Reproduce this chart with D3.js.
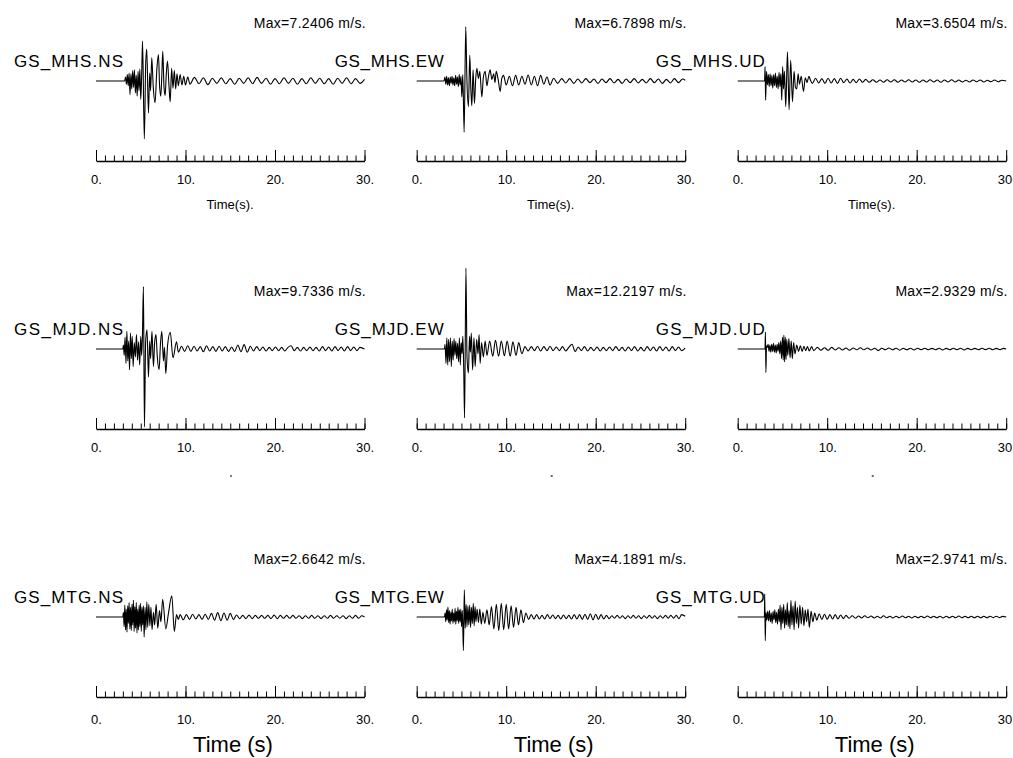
<!DOCTYPE html>
<html>
<head>
<meta charset="utf-8">
<script src="https://cdn.jsdelivr.net/npm/d3@7"></script>
<style>
body { margin: 0; background: #fff; }
svg { display: block; font-family: "Liberation Sans", Arial, Helvetica, sans-serif; }
</style>
</head>
<body>
<svg id="chart"></svg>
<script>
"use strict";

// stations (rows) and components (columns)
var stations = ['GS_MHS', 'GS_MJD', 'GS_MTG'];
var components = ['NS', 'EW', 'UD'];
var maxValues = [
    [7.2406, 6.7898, 3.6504],
    [9.7336, 12.2197, 2.9329],
    [2.6642, 4.1891, 2.9741]
];
var timeTicks = [0, 10, 20, 30];

// traces: [time (s), velocity (m/s)]
var MHS_NS = [[0,0],[3.2,0],[3.3,0.5],[3.4,-0.4],[3.5,0.8],[3.6,-0.6],[3.7,1.0],[3.8,-1.7],[3.9,0.9],[4.0,-1.0],[4.1,1.3],[4.2,-0.8],[4.3,1.4],[4.4,-1.5],[4.5,0.7],[4.6,-1.9],[4.7,1.2],[4.8,-1.2],[4.9,1.5],[5.0,-2.3],[5.1,0.6],
    [5.2,5.0],[5.4,-7.24],[5.55,2.0],[5.67,4.0],[5.86,-4.0],[6.0,1.0],[6.1,-1.2],[6.23,2.9],[6.4,-0.8],[6.6,-2.7],[6.8,1.5],[6.98,3.3],[7.1,-0.5],[7.24,-1.9],[7.35,0.6],[7.46,3.7],[7.6,-0.8],[7.73,-1.8],[7.85,0.8],[7.99,2.5],[8.15,-0.5],[8.29,-2.6],
    [8.45,1.6],[8.6,-0.9],[8.75,1.3],[8.9,-1.0],[9.05,0.9],[9.2,-0.6],[9.4,0.8],[9.6,-0.5],[9.8,0.6],[10.0,-0.5],[10.25,0.5],[10.5,-0.4],[11,0.45],[11.5,-0.35],[12,0.4],[12.5,-0.45],[13,0.35],[13.5,-0.3],[14,0.4],[14.5,-0.35],[15,0.3],[15.5,-0.4],[16,0.35],[16.5,-0.3],[17,0.4],[17.5,-0.35],[18,0.45],[18.5,-0.3],[19,0.35],[19.5,-0.4],[20,0.3],[20.5,-0.35],[21,0.4],[21.5,-0.3],[22,0.35],[22.5,-0.4],[23,0.3],[23.5,-0.35],[24,0.4],[24.5,-0.3],[25,0.35],[25.5,-0.35],[26,0.3],[26.5,-0.4],[27,0.35],[27.5,-0.3],[28,0.4],[28.5,-0.35],[29,0.3],[29.5,-0.3],[30,0.2]];

var MHS_EW = [[0,0],[3.05,0],[3.15,0.5],[3.25,-0.4],[3.35,0.6],[3.45,-0.5],[3.55,0.4],[3.65,-0.6],[3.75,0.5],[3.85,-0.3],[3.95,0.6],[4.05,-0.5],[4.15,0.4],[4.25,-0.6],[4.35,0.7],[4.45,-0.4],[4.55,0.5],[4.65,-0.7],[4.75,0.8],[4.85,-0.5],[4.95,0.6],
    [5.04,-2.0],[5.15,0.8],[5.3,-6.4],[5.48,6.79],[5.6,0.5],[5.78,-3.2],[5.93,3.2],[6.05,-1.0],[6.16,-3.1],[6.3,1.4],[6.45,-2.8],[6.6,0.4],[6.72,1.6],[6.9,0.3],[7.05,1.2],[7.28,-2.0],[7.45,0.5],[7.65,1.2],[7.85,-0.6],[8.0,0.4],[8.2,1.4],[8.4,0.2],[8.6,0.9],[8.75,-0.2],[8.88,1.2],[9.1,0.2],[9.33,-1.3],[9.5,0.3],
    [9.7,0.7],[10.0,-0.5],[10.35,0.6],[10.7,-0.6],[11.05,0.7],[11.4,-0.5],[11.75,0.6],[12.1,-0.4],[12.45,0.75],[12.8,-0.5],[13.15,0.6],[13.5,-0.6],[13.85,0.7],[14.2,-0.4],[14.55,0.5],[14.9,-0.5],[15.3,0.35],[15.75,-0.3],[16.2,0.3],[16.65,-0.25],[17.1,0.3],[17.55,-0.3],[18,0.25],[18.45,-0.25],[18.9,0.3],[19.35,-0.2],[19.8,0.25],[20.25,-0.3],[20.7,0.25],[21.15,-0.2],[21.6,0.3],[22.05,-0.25],[22.5,0.2],[22.95,-0.3],[23.4,0.25],[23.85,-0.2],[24.3,0.3],[24.75,-0.25],[25.2,0.2],[25.65,-0.25],[26.1,0.3],[26.55,-0.2],[27,0.25],[27.45,-0.3],[27.9,0.2],[28.35,-0.25],[28.8,0.3],[29.25,-0.2],[29.7,0.25],[30,0.1]];

var MHS_UD = [[0,0],[3.0,0],[3.06,1.8],[3.12,-2.4],[3.22,1.2],[3.32,-0.5],[3.42,0.8],[3.52,-0.7],[3.62,0.9],[3.72,-0.6],[3.82,0.7],[3.92,-0.9],[4.02,0.8],[4.12,-0.6],[4.22,1.0],[4.32,-0.8],[4.42,0.6],[4.52,-1.0],[4.62,1.1],[4.72,-0.7],[4.82,0.9],[4.92,-2.4],[5.02,1.8],[5.12,-1.0],[5.22,1.2],[5.37,-3.2],[5.56,3.65],[5.74,-3.6],[5.92,2.6],[6.12,-2.6],[6.3,1.2],[6.45,-0.8],[6.6,-1.0],[6.75,0.9],[6.9,-0.4],[7.1,0.6],[7.35,-1.3],[7.55,0.4],[7.75,-0.2],[7.95,0.6],
    [8.1,0.2],[8.35,-0.3],[8.7,0.35],[9.05,-0.25],[9.4,0.3],[9.75,-0.3],[10.1,0.35],[10.45,-0.25],[10.8,0.3],[11.15,-0.3],[11.5,0.35],[11.85,-0.2],[12.2,0.25],[12.55,-0.25],[12.9,0.2],[13.25,-0.2],[13.6,0.25],[13.95,-0.15],[14.3,0.2],[14.7,-0.15],[15.1,0.15],[15.5,-0.15],[15.9,0.12],[16.3,-0.15],[16.7,0.15],[17.1,-0.12],[17.5,0.15],[17.9,-0.15],[18.3,0.12],[18.7,-0.12],[19.1,0.15],[19.5,-0.12],[19.9,0.12],[20.3,-0.15],[20.7,0.12],[21.1,-0.12],[21.5,0.15],[21.9,-0.12],[22.3,0.12],[22.7,-0.15],[23.1,0.12],[23.5,-0.12],[23.9,0.15],[24.3,-0.12],[24.7,0.12],[25.1,-0.12],[25.5,0.1],[25.9,-0.12],[26.3,0.12],[26.7,-0.1],[27.1,0.12],[27.5,-0.12],[27.9,0.1],[28.3,-0.1],[28.7,0.12],[29.1,-0.1],[29.5,0.1],[30,0]];

var MJD_NS = [[0,0],[3.0,0],[3.06,0.5],[3.15,-0.8],[3.25,1.5],[3.35,-1.8],[3.45,2.2],[3.55,-1.5],[3.65,1.0],[3.75,-2.6],[3.85,2.0],[3.95,-1.2],[4.05,1.6],[4.15,-2.2],[4.28,0.8],[4.4,-1.0],[4.52,1.8],[4.64,-1.4],[4.76,0.9],[4.88,-2.0],[5.0,1.6],[5.1,-0.8],[5.18,1.2],[5.3,7.8],[5.41,-9.73],[5.55,1.0],[5.7,2.4],[5.86,-3.5],[6.0,1.0],[6.1,-1.2],[6.25,2.2],[6.42,-2.2],[6.55,0.8],[6.7,1.8],[6.85,-1.0],[7.05,-2.6],[7.2,0.6],[7.35,2.2],[7.54,-1.5],[7.65,0.2],[7.8,-3.1],[8.0,0.5],[8.3,2.1],[8.6,-1.1],[9.0,0.9],[9.2,-0.4],
    [9.55,0.35],[9.9,-0.3],[10.25,0.4],[10.6,-0.3],[10.95,0.35],[11.3,-0.25],[11.65,0.3],[12.0,-0.35],[12.35,0.4],[12.7,-0.25],[13.05,0.3],[13.4,-0.3],[13.75,0.35],[14.1,-0.25],[14.45,0.3],[14.8,-0.3],[15.15,0.25],[15.5,-0.3],[15.85,0.5],[16.2,-0.35],[16.55,0.55],[16.9,-0.4],[17.25,0.35],[17.6,-0.25],[17.95,0.3],[18.3,-0.2],[18.65,0.25],[19.0,-0.25],[19.35,0.2],[19.7,-0.2],[20.05,0.25],[20.4,-0.2],[20.75,0.2],[21.1,-0.25],[21.45,0.2],[21.8,0.4],[22.15,-0.2],[22.5,0.2],[22.85,-0.25],[23.2,0.2],[23.55,-0.2],[23.9,0.25],[24.25,-0.2],[24.6,0.2],[24.95,-0.25],[25.3,0.3],[25.65,-0.2],[26.0,0.25],[26.35,-0.25],[26.7,0.3],[27.05,-0.2],[27.4,0.25],[27.75,-0.25],[28.1,0.3],[28.45,-0.2],[28.8,0.25],[29.15,-0.2],[29.5,0.2],[30,0]];

var MJD_EW = [[0,0],[3.1,0],[3.17,0.6],[3.27,-1.8],[3.37,1.4],[3.47,-2.0],[3.57,1.2],[3.67,-1.6],[3.77,1.4],[3.87,-2.2],[3.97,1.0],[4.07,-1.4],[4.17,1.3],[4.27,-0.8],[4.37,1.0],[4.47,-1.2],[4.57,0.7],[4.67,-1.6],[4.77,1.4],[4.87,-2.0],[4.97,0.8],[5.07,-0.6],[5.15,1.6],[5.25,-2.2],[5.35,-8.6],[5.5,10.1],[5.62,-1.0],[5.78,-3.0],[5.9,1.6],[6.0,-0.4],[6.1,2.0],[6.25,-2.6],[6.4,1.4],[6.53,-2.2],[6.7,1.2],[6.85,-0.6],[6.97,1.8],[7.09,-1.8],[7.25,0.8],[7.45,-1.0],[7.65,1.0],[7.85,-0.8],
    [8.15,1.0],[8.5,-0.9],[8.8,1.1],[9.15,-0.9],[9.45,1.0],[9.8,-0.85],[10.1,1.0],[10.45,-0.9],[10.75,0.9],[11.1,-0.8],[11.4,0.8],[11.75,-0.6],
    [12.1,0.3],[12.45,-0.25],[12.8,0.3],[13.15,-0.2],[13.5,0.35],[13.85,-0.25],[14.2,0.3],[14.55,-0.2],[14.9,0.35],[15.25,-0.2],[15.6,0.25],[15.95,-0.2],[16.3,0.3],[16.65,-0.25],[17.0,0.2],[17.35,0.6],[17.7,-0.3],[18.05,0.25],[18.4,-0.2],[18.75,0.3],[19.1,-0.25],[19.45,0.2],[19.8,-0.2],[20.15,0.25],[20.5,-0.25],[20.85,0.2],[21.2,-0.2],[21.55,0.25],[21.9,-0.2],[22.25,0.3],[22.6,-0.2],[22.95,0.2],[23.3,-0.25],[23.65,0.25],[24.0,-0.2],[24.35,0.3],[24.7,-0.25],[25.05,0.2],[25.4,-0.25],[25.75,0.3],[26.1,-0.2],[26.45,0.25],[26.8,-0.25],[27.15,0.3],[27.5,-0.2],[27.85,0.25],[28.2,-0.25],[28.55,0.3],[28.9,-0.2],[29.25,0.25],[29.6,-0.2],[30,0.1]];

var MJD_UD = [[0,0],[3.05,0],[3.1,2.1],[3.15,-2.93],[3.22,0.4],[3.3,0.2],[3.4,0.6],[3.5,-0.3],[3.6,0.5],[3.7,-0.4],[3.8,0.6],[3.9,-0.3],[4.0,0.7],[4.1,-0.4],[4.2,0.5],[4.3,-0.5],[4.4,0.6],[4.5,-0.3],[4.6,0.8],[4.7,-0.6],[4.8,1.0],[4.9,-1.2],[5.0,1.5],[5.08,-1.4],[5.16,1.75],[5.24,-1.6],[5.32,1.5],[5.4,-1.3],[5.48,1.2],[5.6,-0.8],[5.72,1.3],[5.85,-1.1],[5.98,1.0],[6.1,-1.2],[6.25,0.8],[6.4,-0.6],[6.6,0.5],[6.8,-0.3],[7.0,0.4],[7.2,-0.3],[7.4,0.35],[7.6,-0.2],[7.8,0.3],[8.0,-0.25],[8.25,0.3],[8.5,-0.2],
    [8.9,0.2],[9.3,-0.15],[9.7,0.15],[10.1,-0.15],[10.5,0.2],[10.9,-0.12],[11.3,0.15],[11.7,-0.12],[12.1,0.12],[12.5,-0.15],[12.9,0.12],[13.3,-0.1],[13.7,0.15],[14.1,-0.1],[14.5,0.12],[14.9,-0.12],[15.3,0.1],[15.7,-0.2],[16.1,0.1],[16.5,-0.1],[16.9,0.12],[17.3,-0.1],[17.7,0.1],[18.1,-0.15],[18.5,0.1],[18.9,-0.1],[19.3,0.1],[19.7,-0.12],[20.1,0.1],[20.5,-0.08],[20.9,0.1],[21.3,-0.1],[21.7,0.08],[22.1,-0.1],[22.5,0.1],[22.9,-0.12],[23.3,0.08],[23.7,-0.1],[24.1,0.1],[24.5,-0.08],[24.9,0.1],[25.3,-0.12],[25.7,0.08],[26.1,-0.1],[26.5,0.08],[26.9,-0.1],[27.3,0.1],[27.7,-0.08],[28.1,0.1],[28.5,-0.1],[28.9,0.08],[29.3,-0.08],[29.7,0.08],[30,0]];

var MTG_NS = [[0,0],[3.0,0],[3.06,0.6],[3.14,-1.2],[3.22,1.5],[3.3,-1.6],[3.38,1.0],[3.46,-1.9],[3.54,1.4],[3.62,-0.8],[3.7,1.8],[3.78,-1.5],[3.86,1.2],[3.94,-1.7],[4.02,1.6],[4.1,-1.0],[4.18,2.1],[4.26,-1.8],[4.34,1.3],[4.42,-1.4],[4.5,1.8],[4.58,-2.0],[4.66,1.0],[4.74,-1.6],[4.82,1.5],[4.9,-1.2],[4.98,1.7],[5.06,-1.8],[5.14,1.2],[5.22,-1.0],[5.3,1.4],[5.38,-2.5],[5.48,1.2],[5.58,-1.6],[5.68,1.9],[5.78,-1.3],[5.9,1.6],[6.02,-1.1],[6.14,1.2],[6.26,-1.6],[6.42,0.6],[6.55,-1.0],[6.72,1.6],[6.9,-1.4],[7.1,0.8],[7.25,-0.6],[7.45,2.2],[7.8,-1.5],[8.1,0.5],[8.47,2.66],[8.75,-1.8],[9.0,0.3],[9.2,-0.3],
    [9.4,0.3],[9.75,-0.35],[10.1,0.3],[10.45,-0.3],[10.8,0.35],[11.15,-0.25],[11.5,0.3],[11.85,-0.3],[12.2,0.35],[12.55,-0.3],[12.9,0.45],[13.25,-0.4],[13.6,0.55],[13.95,-0.45],[14.3,0.5],[14.65,-0.4],[15.0,0.45],[15.35,-0.3],[15.7,0.25],[16.05,-0.2],[16.4,0.2],[16.75,-0.2],[17.1,0.25],[17.45,-0.2],[17.8,0.2],[18.15,-0.15],[18.5,0.2],[18.85,-0.15],[19.2,0.2],[19.55,-0.2],[19.9,0.25],[20.25,-0.2],[20.6,0.2],[20.95,-0.15],[21.3,0.2],[21.65,-0.15],[22.0,0.2],[22.35,-0.15],[22.7,0.15],[23.05,-0.2],[23.4,0.15],[23.75,-0.15],[24.1,0.2],[24.45,-0.15],[24.8,0.15],[25.15,-0.2],[25.5,0.15],[25.85,-0.15],[26.2,0.2],[26.55,-0.15],[26.9,0.15],[27.25,-0.15],[27.6,0.15],[27.95,-0.2],[28.3,0.15],[28.65,-0.15],[29.0,0.2],[29.35,-0.15],[29.7,0.15],[30,0]];

var MTG_EW = [[0,0],[3.1,0],[3.17,0.5],[3.25,-0.6],[3.33,0.9],[3.41,-0.4],[3.49,1.25],[3.57,-0.7],[3.65,0.8],[3.73,-0.9],[3.81,0.6],[3.89,-0.5],[3.97,1.0],[4.05,-0.8],[4.13,0.5],[4.21,-0.6],[4.29,1.1],[4.37,-0.9],[4.45,0.7],[4.53,-0.5],[4.61,1.2],[4.69,-0.8],[4.77,0.9],[4.85,-0.6],[4.93,1.0],[5.01,-1.2],[5.1,0.8],[5.22,-4.19],[5.32,3.4],[5.42,-1.4],[5.52,1.6],[5.62,-1.2],[5.72,1.4],[5.82,-1.0],[5.92,1.5],[6.02,-1.3],[6.12,1.2],[6.22,-0.8],[6.32,1.7],[6.42,-1.1],[6.52,1.3],[6.62,-0.6],[6.75,1.0],[6.9,-0.7],[7.05,1.0],[7.22,-0.9],[7.4,0.6],[7.6,-0.8],[7.85,0.9],[8.1,-1.0],
    [8.35,1.3],[8.62,-1.5],[8.9,1.6],[9.17,-1.7],[9.45,1.7],[9.72,-1.6],[10.0,1.6],[10.27,-1.5],[10.55,1.4],[10.82,-1.3],[11.1,1.2],[11.37,-1.0],[11.65,0.9],[11.92,-0.7],[12.2,0.5],
    [12.5,-0.3],[12.8,0.3],[13.1,-0.25],[13.4,0.3],[13.7,-0.25],[14.0,0.2],[14.3,-0.25],[14.6,0.3],[14.9,-0.2],[15.2,0.25],[15.5,-0.2],[15.8,0.2],[16.1,-0.25],[16.4,0.25],[16.7,-0.2],[17.0,0.2],[17.3,-0.25],[17.6,0.3],[17.9,-0.25],[18.2,0.3],[18.5,-0.3],[18.8,0.35],[19.1,-0.3],[19.4,0.4],[19.7,-0.35],[20.0,0.35],[20.3,-0.3],[20.6,0.3],[20.9,-0.25],[21.2,0.2],[21.5,-0.2],[21.8,0.15],[22.1,-0.15],[22.4,0.2],[22.7,-0.15],[23.0,0.15],[23.3,-0.2],[23.6,0.15],[23.9,-0.15],[24.2,0.2],[24.5,-0.15],[24.8,0.15],[25.1,-0.2],[25.4,0.15],[25.7,-0.15],[26.0,0.2],[26.3,-0.15],[26.6,0.15],[26.9,-0.2],[27.2,0.15],[27.5,-0.15],[27.8,0.2],[28.1,-0.15],[28.4,0.2],[28.7,-0.15],[29.0,0.2],[29.3,-0.2],[29.6,0.3],[30,0.1]];

var MTG_UD = [[0,0],[2.98,0],[3.02,2.9],[3.08,-2.97],[3.15,0.6],[3.25,-0.4],[3.35,0.7],[3.45,-0.5],[3.55,0.8],[3.65,-0.6],[3.75,0.5],[3.85,-0.8],[3.95,0.7],[4.05,-0.4],[4.15,0.9],[4.25,-0.7],[4.35,0.6],[4.45,-0.9],[4.55,1.0],[4.65,-0.6],[4.74,1.5],[4.84,-1.6],[4.94,1.2],[5.04,-0.8],[5.14,1.6],[5.24,-1.4],[5.34,0.9],[5.44,-1.0],[5.54,1.8],[5.64,-1.2],[5.74,0.8],[5.84,-1.5],[5.95,2.1],[6.06,-1.0],[6.18,1.4],[6.3,-1.6],[6.42,2.0],[6.55,-0.8],[6.68,1.2],[6.8,-1.4],[6.95,1.5],[7.1,-0.9],[7.25,1.2],[7.4,-1.1],[7.55,0.9],[7.7,-0.6],[7.85,1.0],[8.0,-1.3],[8.2,0.7],[8.4,-0.6],[8.6,0.5],[8.84,-0.4],
    [9.1,0.4],[9.4,-0.3],[9.7,0.35],[10.0,-0.3],[10.3,0.3],[10.6,-0.25],[10.9,0.3],[11.2,-0.25],[11.5,0.25],[11.8,-0.2],[12.1,0.2],[12.45,-0.15],[12.8,0.15],[13.15,-0.15],[13.5,0.12],[13.85,-0.12],[14.2,0.15],[14.55,-0.1],[14.9,0.12],[15.25,-0.12],[15.6,0.1],[15.95,-0.12],[16.3,0.15],[16.65,-0.1],[17.0,0.1],[17.35,-0.12],[17.7,0.1],[18.05,-0.1],[18.4,0.12],[18.75,-0.1],[19.1,0.1],[19.45,-0.12],[19.8,0.1],[20.15,-0.1],[20.5,0.1],[20.85,-0.1],[21.2,0.12],[21.55,-0.1],[21.9,0.1],[22.25,-0.1],[22.6,0.1],[22.95,-0.12],[23.3,0.1],[23.65,-0.1],[24.0,0.1],[24.35,-0.1],[24.7,0.12],[25.05,-0.1],[25.4,0.1],[25.75,-0.1],[26.1,0.1],[26.45,-0.1],[26.8,0.1],[27.15,-0.1],[27.5,0.1],[27.85,-0.1],[28.2,0.1],[28.55,-0.08],[28.9,0.1],[29.25,-0.08],[29.6,0.08],[30,0]];

var traces = [
    [MHS_NS, MHS_EW, MHS_UD],
    [MJD_NS, MJD_EW, MJD_UD],
    [MTG_NS, MTG_EW, MTG_UD]
];

var width = 1013;
var height = 758;

var svg = d3.select('#chart')
    .attr('width', width)
    .attr('height', height);

svg.append('rect')
    .attr('width', width)
    .attr('height', height)
    .attr('fill', '#fff');

// panel layout
var colX = [96, 416.7, 737.7];
var plotW = 268.5;
var rowBase = [81, 349, 617];

stations.forEach((station, r) => {
    components.forEach((comp, c) => {
        var x = d3.scaleLinear().domain([0, 30]).range([colX[c], colX[c] + plotW]);
        var y = d3.scaleLinear().domain([-10, 10]).range([rowBase[r] + 80, rowBase[r] - 80]);
        var g = svg.append('g').attr('class', 'panel');

        var line = d3.line()
            .x(d => x(d[0]))
            .y(d => y(d[1]))
            .curve(d3.curveMonotoneX);

        g.append('path')
            .datum(traces[r][c])
            .attr('d', line)
            .attr('fill', 'none')
            .attr('stroke', '#000')
            .attr('stroke-width', 1.1)
            .attr('stroke-linejoin', 'round');

        var axisY = rowBase[r] + 80;

        // 1 s minor ticks, pointing up
        var minor = g.append('g')
            .attr('transform', `translate(0,${axisY})`)
            .call(d3.axisBottom(x).tickValues(d3.range(0, 31)).tickSize(-5.5).tickSizeOuter(0).tickFormat(''));
        minor.select('.domain').remove();

        var major = g.append('g')
            .attr('transform', `translate(0,${axisY})`)
            .call(d3.axisBottom(x)
                .tickValues(timeTicks)
                .tickSize(-11)
                .tickSizeOuter(0)
                .tickPadding(r === 2 ? 18 : 13.5)
                .tickFormat(d => d + '.'));
        major.attr('font-family', null).attr('font-size', 13);
        major.select('.domain').attr('stroke-width', 1.6);
        major.selectAll('.tick text').attr('fill', '#000');

        // station / component name
        g.append('text')
            .attr('x', colX[c] + 27)
            .attr('y', rowBase[r] - 14)
            .attr('text-anchor', 'end')
            .attr('font-size', 17)
            .attr('textLength', 109)
            .attr('lengthAdjust', 'spacing')
            .text(station + '.' + comp);

        g.append('text')
            .attr('x', colX[c] + 270)
            .attr('y', rowBase[r] - 53)
            .attr('text-anchor', 'end')
            .attr('font-size', 14)
            .attr('letter-spacing', 0.3)
            .text('Max=' + maxValues[r][c].toFixed(4) + ' m/s.');

        // axis titles
        if (r === 0) {
            g.append('text')
                .attr('x', colX[c] + 134)
                .attr('y', axisY + 47.5)
                .attr('text-anchor', 'middle')
                .attr('font-size', 13)
                .text('Time(s).');
        } else if (r === 1) {
            g.append('line')
                .attr('x1', colX[c] + 134)
                .attr('x2', colX[c] + 136)
                .attr('y1', axisY + 47)
                .attr('y2', axisY + 47)
                .attr('stroke', '#000')
                .attr('stroke-width', 1.2);
        } else {
            g.append('text')
                .attr('x', colX[c] + 137)
                .attr('y', axisY + 55)
                .attr('text-anchor', 'middle')
                .attr('font-size', 22)
                .text('Time (s)');
        }
    });
});
</script>
</body>
</html>
